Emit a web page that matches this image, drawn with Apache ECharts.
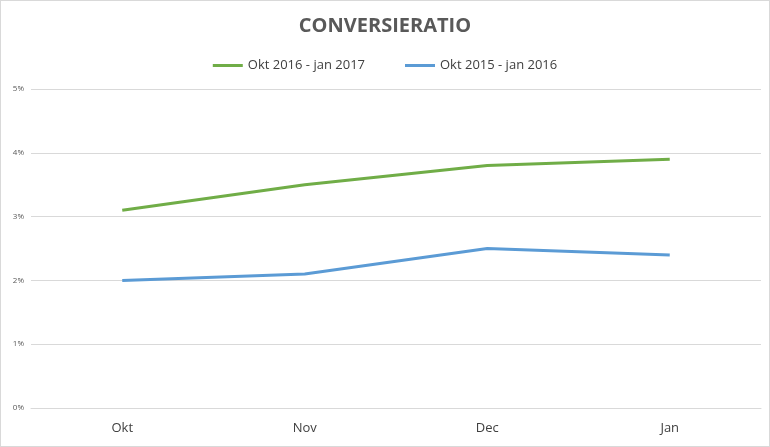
<!DOCTYPE html><html><head><meta charset="utf-8"><script src="https://cdn.jsdelivr.net/npm/echarts@6/dist/echarts.min.js"></script>
<style>html,body{margin:0;padding:0}#c{width:768px;height:445px;border:1px solid #d9d9d9}</style></head><body><div id="c"></div><script>
const categories=['Okt','Nov','Dec','Jan'];
const s2016=[3.1,3.5,3.8,3.9];
const s2015=[2.0,2.1,2.5,2.4];
const yTicks=[0,1,2,3,4,5];
const c=echarts.init(document.getElementById('c'));
c.setOption({animation:false,
title:{text:'CONVERSIERATIO',left:'center',top:10,textStyle:{fontFamily:'Open Sans',fontSize:20,fontWeight:'bold',color:'#595959'}},
legend:{top:53,left:'center',itemWidth:30,itemHeight:3,itemGap:40,icon:'rect',textStyle:{fontFamily:'Open Sans',fontSize:13,color:'#404040'},data:['Okt 2016 - jan 2017','Okt 2015 - jan 2016']},
grid:{left:30,right:8,top:88,bottom:38},
xAxis:{type:'category',data:categories,boundaryGap:true,axisLine:{lineStyle:{color:'#d9d9d9'}},axisTick:{show:false},axisLabel:{fontFamily:'Open Sans',fontSize:13,color:'#404040',margin:14}},
yAxis:{type:'value',min:0,max:5,interval:1,axisLabel:{formatter:v=>yTicks.includes(v)?v+'%':'',fontFamily:'Open Sans',fontSize:8,color:'#595959',margin:7},splitLine:{lineStyle:{color:'#d9d9d9'}},axisLine:{show:false},axisTick:{show:false}},
series:[{name:'Okt 2016 - jan 2017',type:'line',data:s2016,symbol:'none',lineStyle:{color:'#70ad47',width:3},itemStyle:{color:'#70ad47'}},
{name:'Okt 2015 - jan 2016',type:'line',data:s2015,symbol:'none',lineStyle:{color:'#5b9bd5',width:3},itemStyle:{color:'#5b9bd5'}}]});
</script></body></html>
